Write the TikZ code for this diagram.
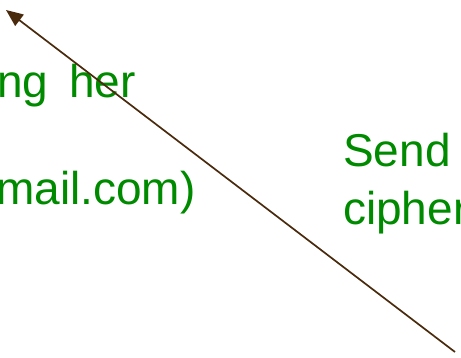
\documentclass[tikz,border=0pt]{standalone}
\usepackage{fontspec}
\setmainfont{Liberation Sans}
\usetikzlibrary{arrows.meta}
\definecolor{textgreen}{HTML}{008A00}
\definecolor{arrowbrown}{HTML}{4A2A0C}

\begin{document}
\begin{tikzpicture}[
  x=1pt, y=-1pt, >={Triangle[length=17pt,width=14pt]},
  label/.style={text=textgreen, font=\fontsize{46}{54}\selectfont, inner sep=0pt, anchor=base west},
  msg/.style={->, draw=arrowbrown, line width=1.7pt}]
\useasboundingbox (0,0) rectangle (461,358);
\clip (0,0) rectangle (461,358);
% ---- left text
\node[label] (using) at (-3,98) {ng\hspace*{21pt}her};
\node[label] (mail) at (-4,205) {mail.com)};
% ---- right text
\node[label] (send) at (343,167) {Send};
\node[label] (cipher) at (343,225) {cipher};
% ---- message arrow
\coordinate (from) at (455,352);
\coordinate (to) at (6,10);
\draw[msg] (from) -- (to);
\end{tikzpicture}
\end{document}
